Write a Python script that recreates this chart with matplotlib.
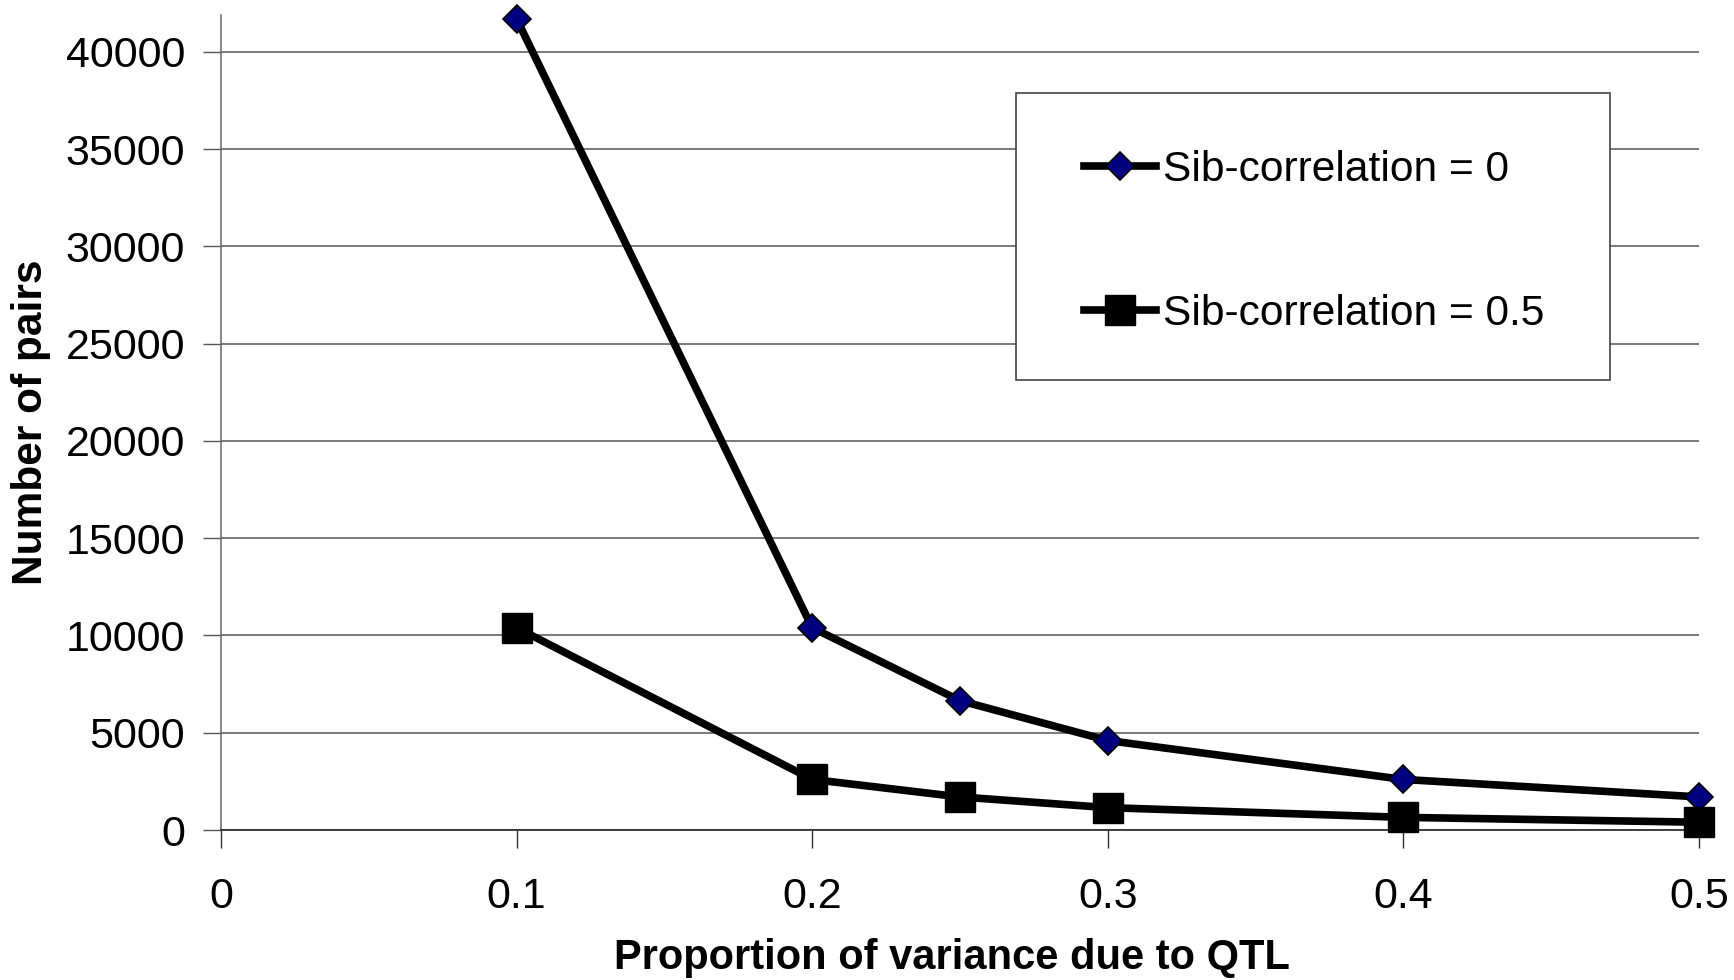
import matplotlib
matplotlib.use("Agg")
import matplotlib.pyplot as plt
from matplotlib.patches import Rectangle

plt.rcParams['font.family'] = ['Liberation Sans', 'DejaVu Sans']

qtl_prop = [0.1, 0.2, 0.25, 0.3, 0.4, 0.5]
pairs_r0 = [41700, 10400, 6650, 4600, 2600, 1700]
pairs_r05 = [10400, 2600, 1700, 1150, 650, 400]
xticks = [0, 0.1, 0.2, 0.3, 0.4, 0.5]
xticklabels = ["0", "0.1", "0.2", "0.3", "0.4", "0.5"]
yticks = [0, 5000, 10000, 15000, 20000, 25000, 30000, 35000, 40000]

fig = plt.figure(figsize=(17.34, 9.8), dpi=100)
ax = fig.add_axes([221/1734, 150/980, 1478/1734, 815/980])

ax.plot(qtl_prop, pairs_r0, color="black", lw=5.5, marker="D", ms=14.5,
        mfc="#000080", mec="black", mew=1.2, clip_on=False, zorder=4,
        label="Sib-correlation = 0")
ax.plot(qtl_prop, pairs_r05, color="black", lw=5.5, marker="s", ms=21,
        mfc="black", mec="black", clip_on=False, zorder=4,
        label="Sib-correlation = 0.5")

ax.set_xlim(0, 0.5)
ax.set_ylim(0, 41900)
ax.set_xticks(xticks)
ax.set_xticklabels(xticklabels)
ax.set_yticks(yticks)
ax.yaxis.grid(True, color="#555555", lw=1.1)
ax.set_axisbelow(True)

for s in ["top", "right"]:
    ax.spines[s].set_visible(False)
ax.spines["left"].set_color("#666666")
ax.spines["left"].set_linewidth(1.1)
ax.spines["bottom"].set_color("#333333")
ax.spines["bottom"].set_linewidth(1.3)

ax.tick_params(axis="y", direction="out", length=13, width=1, color="#555555",
               labelsize=31, pad=13)
ax.tick_params(axis="x", direction="out", length=13, width=1, color="#333333",
               labelsize=31, pad=21)

# legend box
box = Rectangle((0.538, 0.552), 0.402, 0.352, transform=ax.transAxes,
                facecolor="white", edgecolor="#444444", lw=1.2, zorder=5)
ax.add_patch(box)
ax.legend(loc="center left", bbox_to_anchor=(0.584, 0.722), frameon=False,
          fontsize=30.6, handlelength=1.7, handletextpad=0.15, labelspacing=2.45,
          borderpad=0, borderaxespad=0).set_zorder(6)

fig.text(952/1734, 1 - 958/980, "Proportion of variance due to QTL",
         ha="center", va="center", fontsize=30, fontweight="bold")
fig.text(31.5/1734, 1 - 422/980, "Number of pairs", rotation=90,
         ha="center", va="center", fontsize=30.5, fontweight="bold")

fig.savefig("out.png", dpi=100)
